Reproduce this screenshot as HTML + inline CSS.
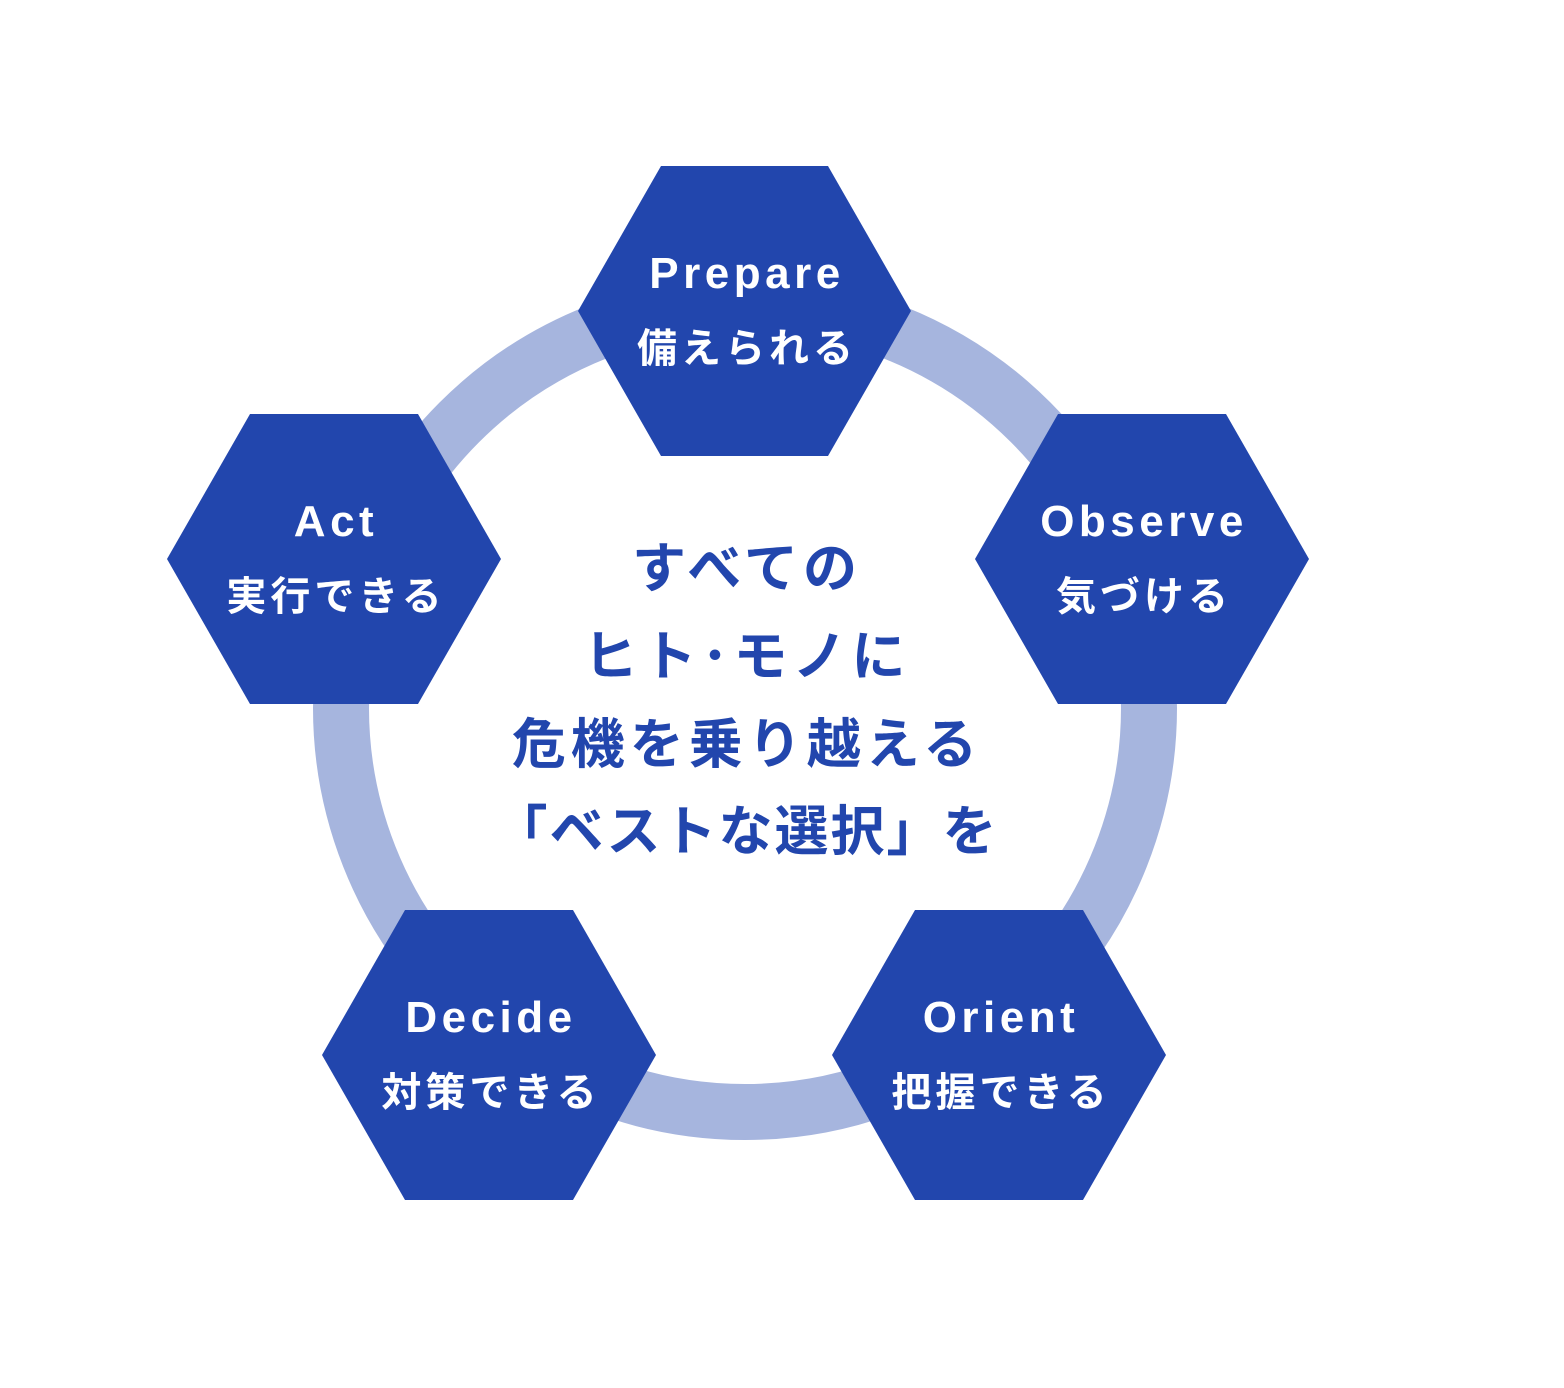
<!DOCTYPE html>
<html><head><meta charset="utf-8"><style>
html,body{margin:0;padding:0;background:#fff;}
svg{display:block}
text{font-family:"Liberation Sans","Noto Sans CJK JP",sans-serif;font-weight:bold;text-anchor:middle}
.en{letter-spacing:4.5px}
.jp{letter-spacing:4px}
.c{letter-spacing:5px}
</style></head><body>
<svg width="1564" height="1388" viewBox="0 0 1564 1388" xmlns="http://www.w3.org/2000/svg">
<circle cx="745" cy="708" r="404" fill="none" stroke="#a6b5de" stroke-width="56"/>
<g fill="#2246ad">
<polygon points="578,311 661,166 828,166 911,311 828,456 661,456"/>
<polygon points="167,559 250,414 418,414 501,559 418,704 250,704"/>
<polygon points="975,559 1058,414 1226,414 1309,559 1226,704 1058,704"/>
<polygon points="322,1055 405,910 573,910 656,1055 573,1200 405,1200"/>
<polygon points="832,1055 915,910 1083,910 1166,1055 1083,1200 915,1200"/>
</g>
<g fill="#fff">
<text class="en" x="747" y="288" font-size="44">Prepare</text>
<text class="jp" x="747" y="362" font-size="40">備えられる</text>
<text class="en" x="336" y="536" font-size="44">Act</text>
<text class="jp" x="336" y="610" font-size="40">実行できる</text>
<text class="en" x="1144" y="536" font-size="44">Observe</text>
<text class="jp" x="1144" y="610" font-size="40">気づける</text>
<text class="en" x="491" y="1032" font-size="44">Decide</text>
<text class="jp" x="491" y="1106" font-size="40">対策できる</text>
<text class="en" x="1001" y="1032" font-size="44">Orient</text>
<text class="jp" x="1001" y="1106" font-size="40">把握できる</text>
</g>
<g fill="#2246ad" font-size="54">
<text class="c" x="747" y="587">すべての</text>
<text class="c" x="747" y="675">ヒト･モノに</text>
<text class="c" x="747" y="763">危機を乗り越える</text>
<text x="746" y="850" style="letter-spacing:2px">「ベストな選択」を</text>
</g>
</svg>
</body></html>
